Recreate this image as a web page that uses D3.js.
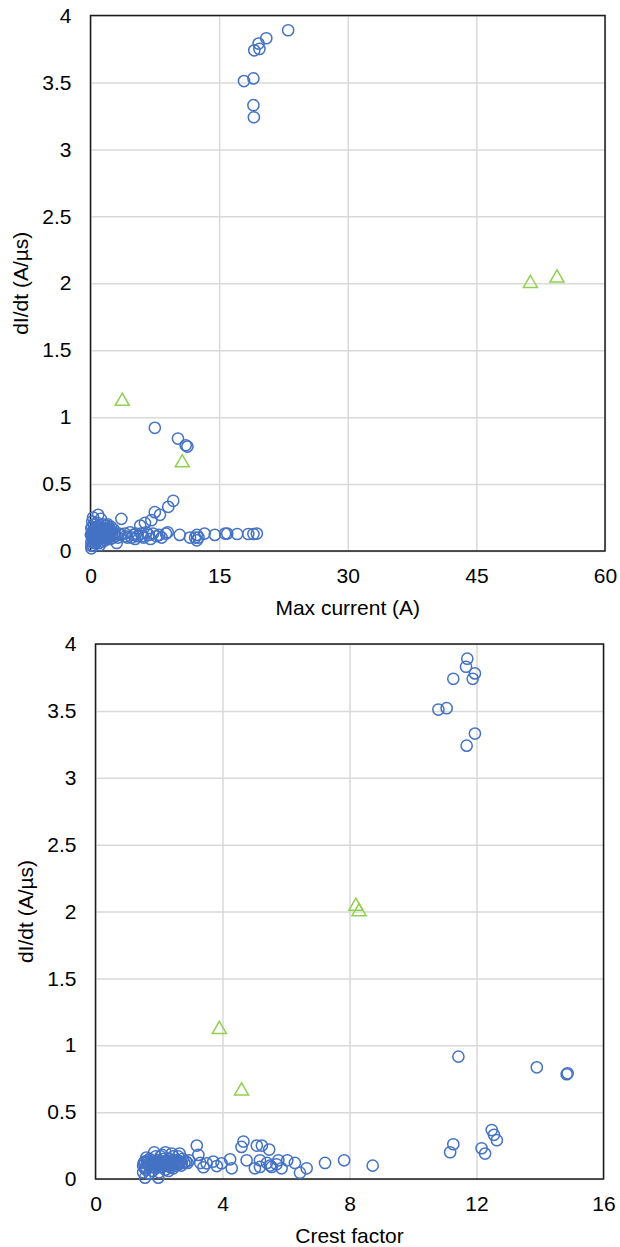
<!DOCTYPE html>
<html><head><meta charset="utf-8">
<script src="https://cdn.jsdelivr.net/npm/d3@7"></script>
<style>body{margin:0;background:#fff}svg{display:block;font-family:"Liberation Sans",Arial,sans-serif}</style>
</head><body>
<script>
// ---- data ----
const topXTicks = [0, 15, 30, 45, 60];
const bottomXTicks = [0, 4, 8, 12, 16];
const yTicks = [0, 0.5, 1, 1.5, 2, 2.5, 3, 3.5, 4];
const yTickLabels = ["0", "0.5", "1", "1.5", "2", "2.5", "3", "3.5", "4"];
const topXTitle = "Max current (A)";
const bottomXTitle = "Crest factor";
const yTitle = "dI/dt (A/\u00b5s)";

// Max current vs dI/dt — circles
const currentCircles = [
  [23.05,3.89],[20.5,3.83],[19.6,3.79],[19.7,3.75],[19.1,3.74],[19.0,3.53],[17.9,3.51],[19.0,3.33],[19.05,3.24],
  [7.5,0.92],[10.2,0.84],[11.1,0.79],[11.3,0.78],
  [9.65,0.375],[9.07,0.33],[8.1,0.27],[7.5,0.29],[7.1,0.23],[6.35,0.21],[5.8,0.19],[3.6,0.24],[0.9,0.27],[0.3,0.25],
  [0.1,0.02],[3.05,0.06],[1.1,0.045],
  [10.4,0.12],[11.6,0.1],[12.4,0.12],[12.4,0.08],[13.3,0.13],[14.5,0.12],[15.7,0.13],[15.95,0.13],[17.1,0.127],
  [18.4,0.127],[19.0,0.127],[19.4,0.13],[12.2,0.1],[12.6,0.1],
  [0.2,0.1],[0.3,0.15],[0.5,0.12],[0.4,0.2],[0.6,0.17],[0.7,0.09],[0.8,0.13],[1.0,0.11],[1.0,0.18],[1.2,0.15],
  [1.3,0.1],[1.4,0.2],[1.5,0.13],[1.6,0.17],[1.8,0.12],[1.9,0.19],[2.0,0.15],[2.1,0.1],[2.2,0.14],[2.4,0.18],
  [2.5,0.12],[0.2,0.22],[0.1,0.07],[0.15,0.13],[0.6,0.06],[1.7,0.08],[2.3,0.09],[2.8,0.13],[3.2,0.1],[3.5,0.12],
  [4.0,0.13],[4.3,0.1],[4.6,0.14],[5.0,0.12],[5.2,0.09],[5.5,0.11],[5.9,0.13],[6.2,0.1],[6.5,0.14],[6.8,0.12],
  [7.0,0.09],[7.3,0.13],[7.7,0.11],[8.0,0.12],[8.3,0.1],[8.8,0.13],[9.0,0.14],[0.3,0.04],[1.2,0.24],[2.0,0.2],[2.7,0.16],
  [0.5,0.08],[1.1,0.14],[1.6,0.11],[2.2,0.12],[0.9,0.1],[1.4,0.07],[2.6,0.1],
  [0.05,0.12],[0.1,0.17],[0.25,0.09],[0.35,0.12],[0.45,0.16],[0.55,0.1],[0.65,0.14],[0.75,0.18],[0.85,0.08],
  [0.95,0.15],[1.05,0.12],[1.15,0.09],[1.25,0.17],[1.35,0.13],[1.45,0.1],[1.55,0.15],[1.65,0.19],[1.75,0.14],
  [1.85,0.1],[1.95,0.13],[2.05,0.17],[2.15,0.11],[2.25,0.16],[2.35,0.13],[2.45,0.15],[0.4,0.06],[0.8,0.21],
  [0.1,0.04],[0.2,0.18],[1.0,0.06],[1.8,0.16],[2.9,0.11],[3.3,0.13],[4.1,0.11],[4.8,0.1],[5.3,0.13],[6.0,0.11]
];
// Max current vs dI/dt — triangles
const currentTriangles = [[3.7,1.13],[10.7,0.67],[51.3,2.01],[54.4,2.05]];

// Crest factor vs dI/dt — circles
const crestCircles = [
  [11.71,3.89],[11.67,3.83],[11.95,3.78],[11.88,3.74],[11.27,3.74],[10.8,3.51],[11.06,3.52],[11.95,3.33],[11.69,3.24],
  [11.43,0.915],[13.9,0.835],[14.84,0.783],[14.87,0.79],
  [12.48,0.366],[12.55,0.33],[12.64,0.29],[11.27,0.26],[11.17,0.2],[12.16,0.23],[12.27,0.19],
  [4.66,0.28],[4.6,0.24],[5.08,0.25],[5.24,0.25],[5.47,0.22],[7.23,0.12],[7.83,0.14],[8.73,0.1],[6.44,0.047],
  [6.65,0.08],[6.28,0.12],[6.04,0.14],[5.76,0.14],[5.5,0.1],[5.4,0.12],[5.55,0.09],[5.18,0.14],[5.18,0.09],
  [4.76,0.14],[5.02,0.08],[4.24,0.147],[4.29,0.08],[3.97,0.117],[3.82,0.097],[3.71,0.13],[3.5,0.117],[3.4,0.088],
  [3.19,0.25],[3.24,0.18],[5.86,0.08],[5.7,0.11],[3.3,0.12],[2.95,0.14],
  [1.56,0.01],[1.98,0.01],
  [1.5,0.1],[1.55,0.13],[1.6,0.07],[1.65,0.11],[1.7,0.15],[1.75,0.09],[1.8,0.12],[1.85,0.2],[1.9,0.08],[1.95,0.14],
  [2.0,0.11],[2.05,0.17],[2.1,0.09],[2.15,0.13],[2.2,0.2],[2.25,0.1],[2.3,0.15],[2.35,0.12],[2.4,0.19],[2.45,0.08],
  [2.5,0.14],[2.55,0.11],[2.6,0.17],[2.65,0.13],[2.7,0.1],[2.75,0.15],[2.8,0.12],[1.5,0.05],[1.6,0.16],[1.7,0.04],
  [1.8,0.06],[1.9,0.17],[2.0,0.05],[2.1,0.18],[2.2,0.07],[2.3,0.06],[2.45,0.17],[1.55,0.08],[1.75,0.13],[1.95,0.1],
  [2.15,0.15],[2.35,0.09],[2.55,0.14],[2.65,0.19],[1.65,0.14],
  [1.52,0.12],[1.58,0.09],[1.62,0.13],[1.68,0.1],[1.72,0.12],[1.78,0.11],[1.82,0.09],[1.88,0.13],[1.92,0.11],
  [1.98,0.12],[2.02,0.09],[2.08,0.13],[2.12,0.11],[2.18,0.1],[2.22,0.13],[2.28,0.11],[2.32,0.1],[2.38,0.13],
  [2.42,0.11],[2.48,0.12],[2.52,0.1],[2.58,0.12],[2.62,0.11],[2.68,0.13],[2.72,0.12],[2.85,0.13],[2.9,0.12]
];
// Crest factor vs dI/dt — triangles
const crestTriangles = [[3.9,1.13],[4.6,0.67],[8.2,2.05],[8.3,2.01]];

// ---- drawing ----
const W = 620, H = 1247;
const svg = d3.select("body").append("svg").attr("width", W).attr("height", H);
const circleColor = "#4472C4", triColor = "#8FD14F";
const tickFont = 21, titleFont = 21;

function panel(cfg) {
  const x = d3.scaleLinear().domain(cfg.xDomain).range([cfg.left, cfg.right]);
  const y = d3.scaleLinear().domain([0, 4]).range([cfg.bottom, cfg.top]);
  const g = svg.append("g");

  // gridlines
  g.append("g").attr("transform", `translate(0,${cfg.bottom})`)
    .call(d3.axisBottom(x).tickValues(cfg.xTicks).tickSize(-(cfg.bottom - cfg.top)).tickFormat(""))
    .call(s => s.select(".domain").remove())
    .call(s => s.selectAll("line").attr("stroke", "#d9d9d9").attr("stroke-width", 1.5));
  g.append("g").attr("transform", `translate(${cfg.left},0)`)
    .call(d3.axisLeft(y).tickValues(yTicks).tickSize(-(cfg.right - cfg.left)).tickFormat(""))
    .call(s => s.select(".domain").remove())
    .call(s => s.selectAll("line").attr("stroke", "#d9d9d9").attr("stroke-width", 1.5));

  // tick labels
  g.append("g").attr("transform", `translate(0,${cfg.bottom})`)
    .call(d3.axisBottom(x).tickValues(cfg.xTicks).tickSize(0).tickPadding(17).tickFormat(d3.format("d")))
    .call(s => s.select(".domain").remove())
    .call(s => s.selectAll("text").attr("font-size", tickFont).attr("fill", "#000").attr("font-family", "Liberation Sans, Arial, sans-serif"));
  g.append("g").attr("transform", `translate(${cfg.left},0)`)
    .call(d3.axisLeft(y).tickValues(yTicks).tickSize(0).tickPadding(19).tickFormat((d, i) => yTickLabels[i]))
    .call(s => s.select(".domain").remove())
    .call(s => s.selectAll("text").attr("font-size", tickFont).attr("fill", "#000").attr("font-family", "Liberation Sans, Arial, sans-serif"));

  // frame
  g.append("rect").attr("x", cfg.left).attr("y", cfg.top)
    .attr("width", cfg.right - cfg.left).attr("height", cfg.bottom - cfg.top)
    .attr("fill", "none").attr("stroke", "#1a1a1a").attr("stroke-width", 1.5);

  // circles
  g.append("g").selectAll("circle").data(cfg.circles).join("circle")
    .attr("cx", d => x(d[0])).attr("cy", d => y(d[1])).attr("r", 5.6)
    .attr("fill", "none").attr("stroke", circleColor).attr("stroke-width", 1.5);
  // triangles
  const tri = d3.symbol().type(d3.symbolTriangle).size(85);
  g.append("g").selectAll("path").data(cfg.triangles).join("path")
    .attr("d", tri).attr("transform", d => `translate(${x(d[0])},${y(d[1]) + 1.5})`)
    .attr("fill", "none").attr("stroke", triColor).attr("stroke-width", 1.5);

  // axis titles
  g.append("text").attr("x", (cfg.left + cfg.right) / 2).attr("y", cfg.bottom + 64)
    .attr("text-anchor", "middle").attr("font-size", titleFont).text(cfg.xTitle);
  g.append("text").attr("transform", `translate(${cfg.left - 63},${(cfg.top + cfg.bottom) / 2}) rotate(-90)`)
    .attr("text-anchor", "middle").attr("font-size", titleFont).text(yTitle);
}

panel({left: 90.5, right: 605, top: 15.5, bottom: 551, xDomain: [0, 60], xTicks: topXTicks,
  circles: currentCircles, triangles: currentTriangles, xTitle: topXTitle});
panel({left: 95.5, right: 603.5, top: 644, bottom: 1179, xDomain: [0, 16], xTicks: bottomXTicks,
  circles: crestCircles, triangles: crestTriangles, xTitle: bottomXTitle});
</script>
</body></html>
